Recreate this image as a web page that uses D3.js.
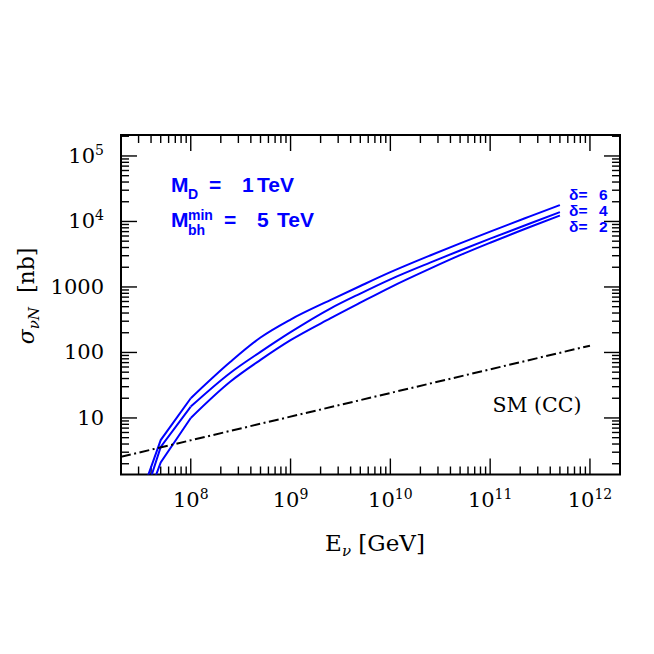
<!DOCTYPE html>
<html><head><meta charset="utf-8">
<script src="https://cdn.jsdelivr.net/npm/d3@7"></script>
<style>html,body{margin:0;padding:0;background:#fff;}</style>
</head><body>
<script>
// ---- data ----
const energies = [3.5e7, 5e7, 1e8, 2.5e8, 5e8, 1e9, 2.5e9, 5e9, 1e10, 2.5e10, 5e10, 1e11, 2.5e11, 5e11];
const sigmaDelta6 = [1.0, 4.6, 20, 72, 169, 318, 630, 1035, 1680, 3020, 4620, 7000, 11940, 17800];
const sigmaDelta4 = [0.67, 3.6, 14.9, 49, 102, 204, 468, 794, 1309, 2355, 3606, 5458, 9311, 13870];
const sigmaDelta2 = [0.48, 2.1, 10, 36, 77, 154, 331, 575, 989, 1905, 3055, 4732, 8222, 12300];
const smEnergies = [2e7, 1e12];
const smSigma = [2.55, 127];
const seriesLabels = ["δ= 6", "δ= 4", "δ= 2"];
const xTickExps = [8, 9, 10, 11, 12];
const yTickLabels = [{v:1e5, base:"10", exp:"5"}, {v:1e4, base:"10", exp:"4"}, {v:1000, base:"1000"}, {v:100, base:"100"}, {v:10, base:"10"}];

// ---- layout ----
const W = 654, H = 654;
const L = 121, R = 620, T = 135, B = 474.5;
const svg = d3.select("body").append("svg").attr("width", W).attr("height", H);
const x = d3.scaleLog().domain([2e7, 2e12]).range([L, R]);
const y = d3.scaleLog().domain([1.37, 2.09e5]).range([B, T]);

svg.append("defs").append("clipPath").attr("id", "clip")
  .append("rect").attr("x", L).attr("y", T).attr("width", R - L).attr("height", B - T);

// ticks
const xt = [], yt = [];
for (let d = 7; d <= 12; d++) for (let k = 1; k <= 9; k++) {
  const v = k * Math.pow(10, d);
  if (v > 2.001e7 && v < 1.999e12) xt.push({v, major: k === 1});
}
for (let d = 0; d <= 5; d++) for (let k = 1; k <= 9; k++) {
  const v = k * Math.pow(10, d);
  if (v > 1.4 && v < 2.05e5) yt.push({v, major: k === 1});
}
const tg = svg.append("g").attr("stroke", "#000").attr("stroke-width", 1.4);
xt.forEach(t => {
  const len = t.major ? 16 : 8, px = x(t.v);
  tg.append("line").attr("x1", px).attr("x2", px).attr("y1", B).attr("y2", B - len);
  tg.append("line").attr("x1", px).attr("x2", px).attr("y1", T).attr("y2", T + len);
});
yt.forEach(t => {
  const len = t.major ? 16 : 8, py = y(t.v);
  tg.append("line").attr("x1", L).attr("x2", L + len).attr("y1", py).attr("y2", py);
  tg.append("line").attr("x1", R).attr("x2", R - len).attr("y1", py).attr("y2", py);
});

// frame
svg.append("rect").attr("x", L).attr("y", T).attr("width", R - L).attr("height", B - T)
  .attr("fill", "none").attr("stroke", "#000").attr("stroke-width", 2);

// tick labels
const serif = "'DejaVu Serif', 'Liberation Serif', serif";
xTickExps.forEach(e => {
  const t = svg.append("text").attr("x", x(Math.pow(10, e))).attr("y", 507)
    .attr("text-anchor", "middle").attr("font-family", serif).attr("font-size", 21);
  t.append("tspan").text("10");
  t.append("tspan").attr("dy", -8).attr("font-size", 14).text(String(e));
});
yTickLabels.forEach(d => {
  const t = svg.append("text").attr("x", 104).attr("y", y(d.v) + 7)
    .attr("text-anchor", "end").attr("font-family", serif).attr("font-size", 21);
  t.append("tspan").text(d.base);
  if (d.exp) t.append("tspan").attr("dy", -8).attr("font-size", 14).text(d.exp);
});

// axis titles
const xl = svg.append("text").attr("x", 375).attr("y", 551).attr("text-anchor", "middle")
  .attr("font-family", serif).attr("font-size", 23);
xl.append("tspan").text("E");
xl.append("tspan").attr("dy", 5).attr("font-size", 15).attr("font-style", "italic").text("ν");
xl.append("tspan").attr("dy", -5).text("\u00a0[GeV]");

const yl = svg.append("text").attr("transform", "translate(34,296) rotate(-90)").attr("text-anchor", "middle")
  .attr("font-family", serif).attr("font-size", 22);
yl.append("tspan").attr("font-style", "italic").text("σ");
yl.append("tspan").attr("dy", 5).attr("font-size", 15).attr("font-style", "italic").text("νN");
yl.append("tspan").attr("dy", -5).text("\u00a0\u00a0[nb]");

// curves: straight near threshold, smooth from 1e8 on
const lineLin = d3.line().x(d => x(d[0])).y(d => y(d[1]));
const lineSmooth = d3.line().x(d => x(d[0])).y(d => y(d[1])).curve(d3.curveMonotoneX);
const plot = svg.append("g").attr("clip-path", "url(#clip)");
[sigmaDelta6, sigmaDelta4, sigmaDelta2].forEach(s => {
  const pts = energies.map((e, i) => [e, s[i]]);
  plot.append("path").attr("d", lineLin(pts.slice(0, 3)))
    .attr("fill", "none").attr("stroke", "#0000ff").attr("stroke-width", 2);
  plot.append("path").attr("d", lineSmooth(pts.slice(2)))
    .attr("fill", "none").attr("stroke", "#0000ff").attr("stroke-width", 2);
});
plot.append("path").datum(smEnergies.map((e, i) => [e, smSigma[i]]))
  .attr("d", lineLin).attr("fill", "none").attr("stroke", "#000").attr("stroke-width", 2)
  .attr("stroke-dasharray", "10,3.5,2,3.5");

// annotations
const sans = "'Liberation Sans', Arial, sans-serif";
const blue = "#0000ff";
const a1 = svg.append("text").attr("y", 191.7).attr("font-family", sans).attr("font-weight", "bold")
  .attr("font-size", 21).attr("fill", blue);
a1.append("tspan").attr("x", 171).text("M");
a1.append("tspan").attr("x", 188).attr("dy", 7).attr("font-size", 14).text("D");
a1.append("tspan").attr("x", 209).attr("dy", -7).text("=");
a1.append("tspan").attr("x", 242).text("1");
a1.append("tspan").attr("x", 257).text("TeV");

const a2 = svg.append("text").attr("y", 226.7).attr("font-family", sans).attr("font-weight", "bold")
  .attr("font-size", 21).attr("fill", blue);
a2.append("tspan").attr("x", 171).text("M");
a2.append("tspan").attr("x", 188).attr("dy", -7).attr("font-size", 14).text("min");
a2.append("tspan").attr("x", 188).attr("dy", 15).attr("font-size", 14).text("bh");
a2.append("tspan").attr("x", 224).attr("dy", -8).text("=");
a2.append("tspan").attr("x", 257).text("5");
a2.append("tspan").attr("x", 277).text("TeV");

svg.append("text").attr("x", 537).attr("y", 412).attr("text-anchor", "middle")
  .attr("font-family", serif).attr("font-size", 20.5).text("SM (CC)");

const dl = [200, 215.7, 231.5];
seriesLabels.forEach((s, i) => {
  const parts = s.split(" ");
  const t = svg.append("text").attr("y", dl[i]).attr("font-family", sans).attr("font-weight", "bold")
    .attr("font-size", 15.5).attr("fill", blue);
  t.append("tspan").attr("x", 569).text(parts[0]);
  t.append("tspan").attr("x", 599).text(parts[1]);
});
</script>
</body></html>
